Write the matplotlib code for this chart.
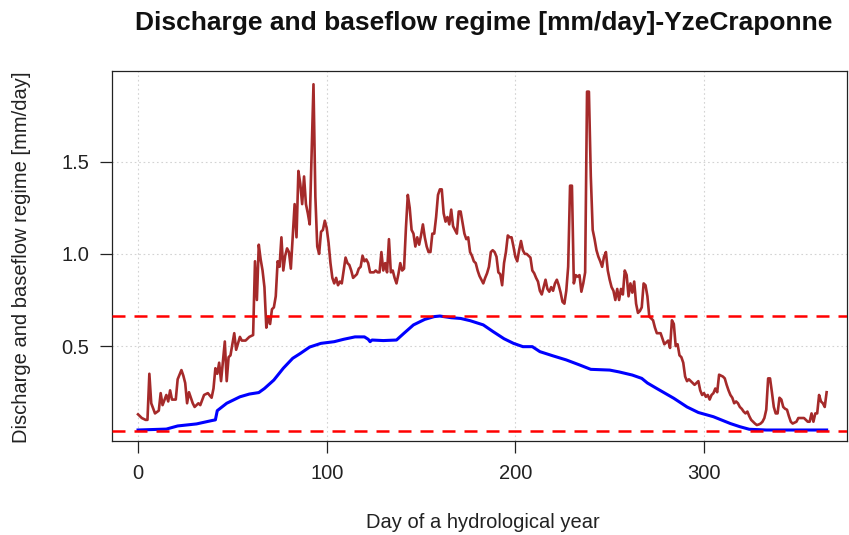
import matplotlib

matplotlib.use("Agg")
import matplotlib.pyplot as plt  # noqa: E402

plt.rcParams["font.family"] = ["Liberation Sans", "DejaVu Sans"]

W, H, DPI = 849, 535, 100

TITLE = "Discharge and baseflow regime [mm/day]-YzeCraponne"
XLABEL = "Day of a hydrological year"
YLABEL = "Discharge and baseflow regime [mm/day]"

# discharge regime (day -> mm/day)
q_day = [0, 2, 4, 5, 6, 7, 9, 11, 12, 13, 15, 16, 17, 18, 20, 21, 23, 24, 25, 26,
         27, 29, 30, 32, 33, 35, 37, 39, 40, 41, 42, 43, 44, 46, 47, 48, 49, 51, 52, 54,
         55, 57, 59, 61, 62, 63, 64, 65, 66, 67, 68, 69, 70, 71, 72, 73, 74, 75, 76, 77,
         78, 79, 80, 81, 82, 83, 84, 85, 86, 87, 88, 89, 90, 91, 92, 93, 94, 95, 96, 97,
         98, 99, 100, 101, 102, 103, 104, 105, 106, 107, 108, 109, 110, 111, 112, 113, 114, 115, 116, 117,
         118, 119, 120, 121, 122, 123, 124, 125, 126, 127, 128, 129, 130, 131, 132, 133, 134, 135, 136, 137,
         138, 139, 140, 141, 142, 143, 144, 145, 146, 147, 148, 149, 150, 151, 152, 153, 154, 155, 156, 157,
         158, 159, 160, 161, 162, 163, 164, 165, 166, 167, 168, 169, 170, 171, 172, 173, 174, 175, 176, 177,
         178, 179, 180, 181, 182, 183, 184, 185, 186, 187, 188, 189, 190, 191, 192, 193, 194, 195, 196, 197,
         198, 199, 200, 201, 202, 203, 204, 205, 206, 207, 208, 209, 210, 211, 212, 213, 214, 215, 216, 217,
         218, 219, 220, 221, 222, 223, 224, 225, 226, 227, 228, 229, 230, 231, 232, 233, 234, 235, 236, 237,
         238, 239, 240, 241, 242, 243, 244, 245, 246, 247, 248, 249, 250, 251, 252, 253, 254, 255, 256, 257,
         258, 259, 260, 261, 262, 263, 264, 265, 266, 267, 268, 269, 270, 271, 272, 273, 274, 275, 276, 277,
         278, 279, 280, 281, 282, 283, 284, 285, 286, 287, 288, 289, 290, 291, 292, 293, 294, 295, 296, 297,
         298, 299, 300, 301, 302, 303, 304, 305, 306, 307, 308, 309, 310, 311, 312, 313, 314, 315, 316, 317,
         318, 319, 320, 321, 322, 323, 324, 325, 326, 327, 328, 329, 330, 331, 332, 333, 334, 335, 336, 337,
         338, 339, 340, 341, 342, 343, 344, 345, 346, 347, 348, 349, 350, 351, 352, 353, 354, 355, 356, 357,
         358, 359, 360, 361, 362, 363, 364, 365]
q_val = [0.13, 0.11, 0.10, 0.10, 0.35, 0.19, 0.135, 0.15, 0.245, 0.18, 0.235, 0.20, 0.26, 0.21, 0.21, 0.32, 0.37, 0.34, 0.30, 0.19,
         0.25, 0.19, 0.17, 0.19, 0.18, 0.235, 0.245, 0.22, 0.27, 0.38, 0.35, 0.41, 0.31, 0.525, 0.31, 0.44, 0.45, 0.57, 0.48, 0.55,
         0.53, 0.53, 0.55, 0.56, 0.96, 0.75, 1.05, 0.97, 0.91, 0.82, 0.60, 0.66, 0.62, 0.70, 0.71, 0.77, 0.96, 0.93, 1.09, 0.91,
         0.99, 1.03, 1.01, 0.92, 1.09, 1.27, 1.09, 1.45, 1.38, 1.27, 1.42, 1.27, 1.22, 1.16, 1.54, 1.92, 1.31, 1.04, 1.00, 1.12,
         1.13, 1.18, 1.14, 1.06, 0.95, 0.87, 0.84, 0.87, 0.83, 0.85, 0.84, 0.91, 0.98, 0.95, 0.94, 0.91, 0.87, 0.88, 0.89, 0.92,
         0.93, 0.99, 0.96, 0.97, 0.95, 0.90, 0.90, 0.90, 0.91, 0.90, 0.90, 1.01, 0.91, 0.95, 0.90, 1.08, 0.90, 0.91, 0.87, 0.84,
         0.89, 0.95, 0.91, 0.92, 1.14, 1.32, 1.25, 1.13, 1.11, 1.04, 1.09, 1.05, 1.10, 1.16, 1.09, 1.04, 1.01, 1.01, 1.11, 1.11,
         1.20, 1.32, 1.35, 1.35, 1.22, 1.175, 1.20, 1.16, 1.24, 1.15, 1.13, 1.11, 1.23, 1.23, 1.17, 1.11, 1.08, 1.09, 1.01, 0.99,
         0.96, 0.95, 0.91, 0.88, 0.86, 0.84, 0.87, 0.895, 0.93, 1.01, 1.02, 1.01, 0.985, 0.90, 0.89, 0.83, 0.95, 1.01, 1.10, 1.09,
         1.09, 1.04, 0.985, 0.96, 1.02, 1.07, 1.02, 1.00, 1.00, 0.99, 0.98, 0.91, 0.895, 0.87, 0.85, 0.80, 0.78, 0.82, 0.86, 0.81,
         0.795, 0.82, 0.80, 0.84, 0.86, 0.83, 0.79, 0.74, 0.73, 0.80, 0.93, 1.37, 1.37, 0.84, 0.885, 0.877, 0.885, 0.795, 0.84, 0.90,
         1.88, 1.88, 1.42, 1.13, 1.08, 1.02, 0.985, 0.96, 0.93, 0.985, 1.01, 0.91, 0.86, 0.82, 0.80, 0.75, 0.81, 0.75, 0.81, 0.78,
         0.91, 0.885, 0.77, 0.84, 0.79, 0.85, 0.73, 0.68, 0.69, 0.71, 0.84, 0.83, 0.77, 0.66, 0.65, 0.64, 0.60, 0.57, 0.57, 0.57,
         0.54, 0.51, 0.52, 0.53, 0.49, 0.64, 0.62, 0.50, 0.51, 0.45, 0.44, 0.41, 0.335, 0.31, 0.32, 0.31, 0.30, 0.29, 0.30, 0.31,
         0.26, 0.235, 0.245, 0.225, 0.235, 0.21, 0.235, 0.245, 0.27, 0.25, 0.345, 0.34, 0.335, 0.325, 0.29, 0.26, 0.235, 0.22, 0.19, 0.20,
         0.19, 0.17, 0.16, 0.145, 0.135, 0.145, 0.12, 0.10, 0.09, 0.08, 0.072, 0.075, 0.08, 0.09, 0.11, 0.155, 0.325, 0.325, 0.25, 0.17,
         0.135, 0.135, 0.22, 0.21, 0.17, 0.16, 0.155, 0.12, 0.09, 0.08, 0.085, 0.09, 0.11, 0.11, 0.11, 0.11, 0.10, 0.09, 0.09, 0.135,
         0.09, 0.135, 0.135, 0.235, 0.20, 0.19, 0.17, 0.25]

# baseflow regime
bf_day = [0, 15, 21, 31, 39, 41, 42, 47, 54, 59, 64, 67, 72, 77, 82, 86, 91, 97, 104, 109,
          115, 120, 122, 123, 124, 130, 137, 141, 146, 152, 157, 160, 166, 171, 176, 183, 188, 194, 199, 204,
          209, 213, 220, 227, 234, 240, 250, 255, 262, 267, 270, 275, 284, 291, 297, 305, 314, 319, 324, 333,
          365]
bf_val = [0.045, 0.05, 0.067, 0.078, 0.096, 0.10, 0.15, 0.19, 0.225, 0.24, 0.248, 0.27, 0.316, 0.38, 0.434, 0.46, 0.495, 0.515, 0.524, 0.537,
          0.55, 0.55, 0.537, 0.524, 0.533, 0.53, 0.533, 0.57, 0.615, 0.645, 0.66, 0.663, 0.654, 0.65, 0.638, 0.615, 0.58, 0.54, 0.515, 0.497,
          0.497, 0.47, 0.447, 0.425, 0.398, 0.374, 0.37, 0.36, 0.343, 0.325, 0.30, 0.27, 0.217, 0.17, 0.14, 0.117, 0.08, 0.063, 0.049, 0.045,
          0.045]

# max / min of the baseflow regime (dashed red guides)
bf_limits = [0.664, 0.039]

x_ticks = [0, 100, 200, 300]
y_ticks = [0.5, 1.0, 1.5]
y_tick_labels = ["0.5", "1.0", "1.5"]


def main() -> None:
    fig = plt.figure(figsize=(W / DPI, H / DPI), dpi=DPI)
    # plot region in pixels: x 112..847, y 70.7..441
    ax = fig.add_axes([112 / W, 1 - 441 / H, (847 - 112) / W, (441 - 70.7) / H])

    for xv in x_ticks:
        ax.axvline(xv, color="#D3D3D3", lw=0.8, ls=(0, (1.5, 2.5)), zorder=0)
    for yv in y_ticks:
        ax.axhline(yv, color="#D3D3D3", lw=0.8, ls=(0, (1.5, 2.5)), zorder=0)

    ax.plot(q_day, q_val, color="#A52A2A", lw=1.9, zorder=2)
    ax.plot(bf_day, bf_val, color="#0000FF", lw=2.2, zorder=3)
    for yv in bf_limits:
        ax.axhline(yv, color="#FF0000", lw=1.8, dashes=(5.2, 3.6), zorder=4)

    ax.set_xlim(-13.8, 375.8)
    ax.set_ylim(-0.0146, 1.9935)
    ax.set_xticks(x_ticks)
    ax.set_yticks(y_ticks)
    ax.set_yticklabels(y_tick_labels)
    ax.tick_params(direction="out", length=8.5, width=0.9, pad=8, labelsize=14.5,
                   colors="#222222")
    for sp in ax.spines.values():
        sp.set_linewidth(0.9)
        sp.set_color("#222222")

    fig.text(484 / W, 1 - 23 / H, TITLE, ha="center", va="center",
             fontsize=19, fontweight="bold", color="#111111")
    fig.text(483 / W, 1 - 522 / H, XLABEL, ha="center", va="center",
             fontsize=14.5, color="#222222")
    fig.text(22 / W, 1 - 257 / H, YLABEL, ha="center", va="center",
             rotation=90, fontsize=14.5, color="#222222")

    fig.savefig("out.png", dpi=DPI)
    plt.close(fig)


if __name__ == "__main__":
    main()
